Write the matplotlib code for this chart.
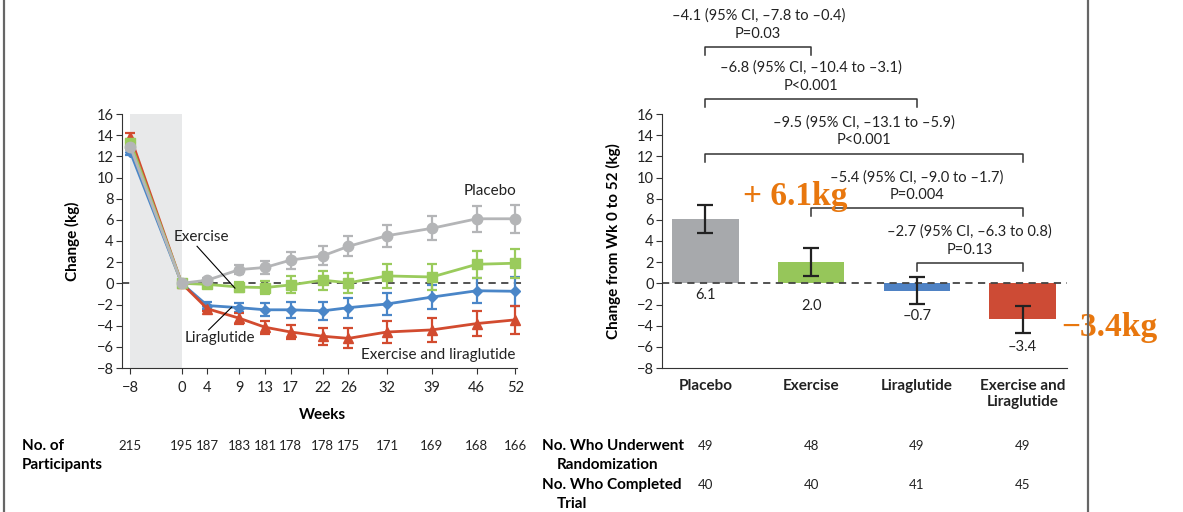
import matplotlib.pyplot as plt
from matplotlib.lines import Line2D
from matplotlib.transforms import blended_transform_factory

plt.rcParams['font.family'] = ['Lato', 'DejaVu Sans']

# Weight change over time (left panel)
weeks = [-8, 0, 4, 9, 13, 17, 22, 26, 32, 39, 46, 52]
participants = [215, 195, 187, 183, 181, 178, 178, 175, 171, 169, 168, 166]

placebo = [12.9, 0, 0.3, 1.3, 1.5, 2.2, 2.6, 3.5, 4.5, 5.2, 6.1, 6.1]
placebo_err = [0.3, 0, 0.25, 0.45, 0.65, 0.8, 0.9, 0.95, 1.05, 1.15, 1.25, 1.3]
exercise = [13.3, 0, -0.1, -0.35, -0.4, -0.15, 0.3, 0.05, 0.7, 0.6, 1.8, 1.9]
exercise_err = [0.35, 0, 0.2, 0.5, 0.65, 0.8, 0.9, 0.95, 1.1, 1.2, 1.25, 1.35]
liraglutide = [12.4, 0, -2.1, -2.3, -2.5, -2.5, -2.6, -2.3, -1.95, -1.3, -0.7, -0.75]
liraglutide_err = [0.3, 0, 0.3, 0.45, 0.6, 0.75, 0.85, 0.95, 1.05, 1.15, 1.2, 1.35]
combo = [13.85, 0, -2.4, -3.3, -4.15, -4.6, -5.0, -5.2, -4.6, -4.4, -3.8, -3.45]
combo_err = [0.4, 0, 0.25, 0.5, 0.6, 0.7, 0.8, 0.95, 1.0, 1.15, 1.2, 1.3]

# Change from week 0 to 52 (right panel)
groups = ['Placebo', 'Exercise', 'Liraglutide', 'Exercise and\nLiraglutide']
change_52 = [6.1, 2.0, -0.7, -3.4]
ci_low = [4.75, 0.65, -1.95, -4.65]
ci_high = [7.4, 3.3, 0.6, -2.15]
randomized = [49, 48, 49, 49]
completed = [40, 40, 41, 45]

comparisons = [
    (0, 1, '\u20134.1 (95% CI, \u20137.8 to \u20130.4)', 'P=0.03'),
    (0, 2, '\u20136.8 (95% CI, \u201310.4 to \u20133.1)', 'P<0.001'),
    (0, 3, '\u20139.5 (95% CI, \u201313.1 to \u20135.9)', 'P<0.001'),
    (1, 3, '\u20135.4 (95% CI, \u20139.0 to \u20131.7)', 'P=0.004'),
    (2, 3, '\u20132.7 (95% CI, \u20136.3 to 0.8)', 'P=0.13'),
]
bracket_y = [22.35, 17.4, 12.25, 7.08, 1.9]
value_label_y = [-1.1, -2.1, -3.1, -6.05]

line_colors = {'placebo': '#b4b5b7', 'exercise': '#9acb5c',
               'liraglutide': '#4a86c8', 'combo': '#d24b2f'}
bar_colors = ['#a7a9ac', '#96c65a', '#4f82c4', '#cd4b35']
axis_color = '#333333'
orange = '#e8770e'

fig = plt.figure(figsize=(11.83, 5.12), dpi=100)
ax1 = fig.add_axes([122 / 1183, 1 - 368 / 512, (523 - 122) / 1183, 254 / 512])
ax2 = fig.add_axes([662 / 1183, 1 - 368 / 512, (1067 - 662) / 1183, 254 / 512])

# ---- left panel ----
ax1.axvspan(-8, 0, color='#e8e9ea', lw=0, zorder=1)
ax1.plot([-9.3, 53.2], [0, 0], color='#444444', ls=(0, (4, 3)), lw=1.3, zorder=0.5)

series = [
    (liraglutide, liraglutide_err, line_colors['liraglutide'], 'D', 5),
    (combo, combo_err, line_colors['combo'], '^', 7.5),
    (exercise, exercise_err, line_colors['exercise'], 's', 7),
    (placebo, placebo_err, line_colors['placebo'], 'o', 7.5),
]
for vals, errs, col, mk, ms in series:
    ax1.errorbar(weeks, vals, yerr=errs, color=col, marker=mk, ms=ms, lw=2,
                 elinewidth=1.6, capsize=3.5, capthick=1.6, zorder=3)

ax1.set_xlim(-9.3, 53.2)
ax1.set_ylim(-8, 16)
ax1.set_xticks(weeks)
ax1.set_yticks(range(-8, 17, 2))
ax1.spines['top'].set_visible(False)
ax1.spines['right'].set_visible(False)
ax1.spines['bottom'].set_bounds(-9.3, 52.3)
for sp in ('left', 'bottom'):
    ax1.spines[sp].set_color(axis_color)
ax1.tick_params(axis='both', length=4, color=axis_color, labelsize=10.5, labelcolor='#222222')
ax1.tick_params(axis='x', pad=5)
ax1.tick_params(axis='y', pad=2)
ax1.set_xlabel('Weeks', fontsize=11, fontweight='bold', labelpad=10)
ax1.set_ylabel('Change (kg)', fontsize=11, fontweight='bold', labelpad=12)

ax1.text(48, 8.75, 'Placebo', fontsize=11, ha='center', va='center', color='#222222')
ax1.text(-1.2, 4.35, 'Exercise', fontsize=11, ha='left', va='center', color='#222222')
ax1.plot([2.4, 8.3], [3.5, -0.45], color='black', lw=0.8, zorder=4)
ax1.text(5.9, -5.15, 'Liraglutide', fontsize=11, ha='center', va='center', color='#222222')
ax1.plot([4.2, 7.8], [-4.4, -2.25], color='black', lw=0.8, zorder=4)
ax1.text(52, -6.8, 'Exercise and liraglutide', fontsize=11, ha='right', va='center',
         color='#222222')

# participants table under left panel
tr1 = blended_transform_factory(ax1.transData, fig.transFigure)
for w, n in zip(weeks, participants):
    ax1.text(w, 1 - 445.7 / 512, str(n), transform=tr1, ha='center', va='center',
             fontsize=9.5, color='#222222')
fig.text(22 / 1183, 1 - 445.7 / 512, 'No. of', fontsize=11, fontweight='bold', va='center')
fig.text(22 / 1183, 1 - 465 / 512, 'Participants', fontsize=11, fontweight='bold', va='center')

# ---- right panel ----
x = range(len(groups))
ax2.bar(x, change_52, width=0.63, color=bar_colors, zorder=2)
err_lo = [c - lo for c, lo in zip(change_52, ci_low)]
err_hi = [hi - c for c, hi in zip(change_52, ci_high)]
ax2.errorbar(x, change_52, yerr=[err_lo, err_hi], fmt='none', ecolor='#222222',
             elinewidth=1.6, capsize=6, capthick=1.6, zorder=3)
ax2.axhline(0, color='#444444', ls=(0, (4, 3)), lw=1.3, zorder=2.5)

for i, v in enumerate(change_52):
    label = f'{v:.1f}'.replace('-', '\u2013')
    ax2.text(i, value_label_y[i], label, ha='center', va='center', fontsize=10.5, color='#222222')

for (a, b, ci_text, p_text), yb in zip(comparisons, bracket_y):
    ax2.plot([a, a, b, b], [yb - 0.75, yb, yb, yb - 0.75], color='#333333', lw=1.1,
             clip_on=False, zorder=4)
    xm = (a + b) / 2
    ax2.text(xm, yb + 2.95, ci_text, ha='center', va='center', fontsize=10.5,
             color='#222222', clip_on=False)
    ax2.text(xm, yb + 1.25, p_text, ha='center', va='center', fontsize=10.5,
             color='#222222', clip_on=False)

ax2.text(0.85, 8.2, '+ 6.1kg', fontsize=24, fontweight='bold', color=orange,
         family='Liberation Serif', ha='center', va='center', zorder=5)
ax2.text(3.82, -4.15, '\u22123.4kg', fontsize=24, fontweight='bold', color=orange,
         family='Liberation Serif', ha='center', va='center', clip_on=False, zorder=5)

ax2.set_xlim(-0.41, 3.42)
ax2.set_ylim(-8, 16)
ax2.set_xticks(list(x))
ax2.set_xticklabels(groups, fontsize=11, fontweight='bold')
ax2.set_yticks(range(-8, 17, 2))
ax2.spines['top'].set_visible(False)
ax2.spines['right'].set_visible(False)
for sp in ('left', 'bottom'):
    ax2.spines[sp].set_color(axis_color)
ax2.tick_params(axis='x', length=0, pad=8, labelcolor='#222222')
ax2.tick_params(axis='y', length=4, color=axis_color, labelsize=10.5, pad=2, labelcolor='#222222')
ax2.set_ylabel('Change from Wk 0 to 52 (kg)', fontsize=11, fontweight='bold', labelpad=11)

# randomization / completion table under right panel
tr2 = blended_transform_factory(ax2.transData, fig.transFigure)
for i in x:
    ax2.text(i, 1 - 445.7 / 512, str(randomized[i]), transform=tr2, ha='center',
             va='center', fontsize=9.5, color='#222222')
    ax2.text(i, 1 - 485 / 512, str(completed[i]), transform=tr2, ha='center',
             va='center', fontsize=9.5, color='#222222')
fig.text(542 / 1183, 1 - 445.7 / 512, 'No. Who Underwent', fontsize=11, fontweight='bold', va='center')
fig.text(557 / 1183, 1 - 465 / 512, 'Randomization', fontsize=11, fontweight='bold', va='center')
fig.text(542 / 1183, 1 - 485 / 512, 'No. Who Completed', fontsize=11, fontweight='bold', va='center')
fig.text(557 / 1183, 1 - 504 / 512, 'Trial', fontsize=11, fontweight='bold', va='center')

# frame lines
fig.add_artist(Line2D([4 / 1183, 4 / 1183], [0, 1], color='#666666', lw=1.6))
fig.add_artist(Line2D([1088 / 1183, 1088 / 1183], [0, 1], color='#666666', lw=1.6))

fig.savefig('out.png', dpi=100, facecolor='white')
